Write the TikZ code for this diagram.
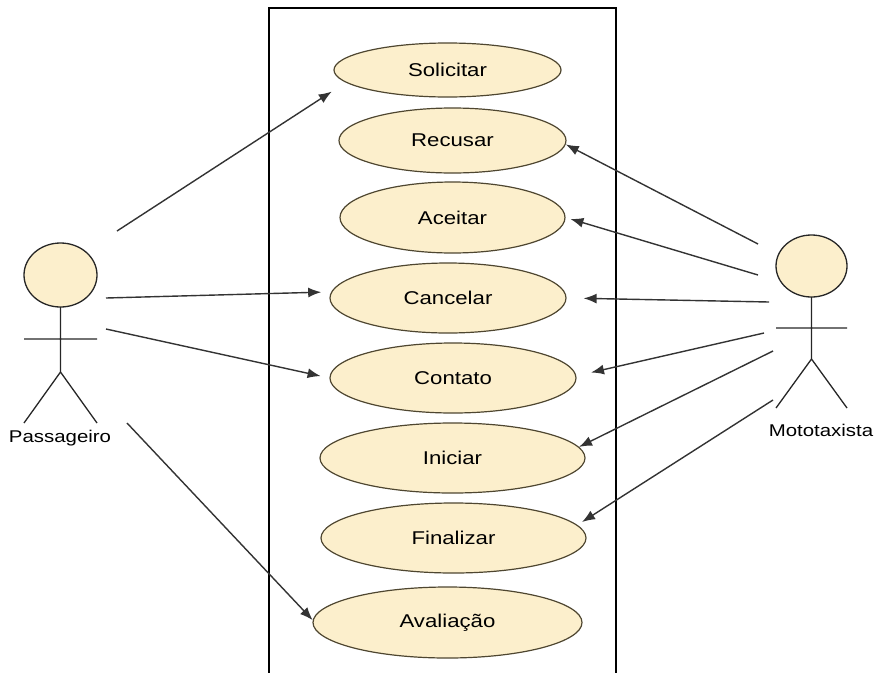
\documentclass[tikz,border=0pt]{standalone}
\usepackage{fontspec}
\setmainfont{Liberation Sans}[FakeStretch=1.2]
\usetikzlibrary{arrows.meta,shapes.geometric}
\definecolor{ucfill}{RGB}{252,239,204}
\definecolor{ucdraw}{RGB}{78,70,48}

\begin{document}
\begin{tikzpicture}[x=1pt,y=-1pt]
\tikzstyle{usecase} = [ellipse, draw=ucdraw, line width=1.2pt, fill=ucfill,
inner sep=0pt, font=\fontsize{18.5}{22}\selectfont]
\tikzstyle{actor} = [draw=black!85, line width=1.3pt]
\tikzstyle{actorname} = [font=\fontsize{17}{20}\selectfont]
\tikzstyle{assoc} = [draw=black!80, line width=1.4pt, -{Latex[length=13pt,width=10pt]}]
\useasboundingbox (0,0) rectangle (877,672);

% system boundary
\draw[line width=1.3pt] (269,690) -- (269,8) -- (616,8) -- (616,690);

% use cases
\node[usecase, minimum width=227pt, minimum height=54pt] (solicitar) at (447.5,70) {Solicitar};
\node[usecase, minimum width=227pt, minimum height=65pt] (recusar) at (452.5,140.5) {Recusar};
\node[usecase, minimum width=225pt, minimum height=71pt] (aceitar) at (452.5,217.5) {Aceitar};
\node[usecase, minimum width=236pt, minimum height=70pt] (cancelar) at (448,298) {Cancelar};
\node[usecase, minimum width=246pt, minimum height=70pt] (contato) at (453,378) {Contato};
\node[usecase, minimum width=265pt, minimum height=70pt] (iniciar) at (452.5,458) {Iniciar};
\node[usecase, minimum width=265pt, minimum height=70pt] (finalizar) at (453.5,538) {Finalizar};
\node[usecase, minimum width=269pt, minimum height=71pt] (avaliacao) at (447.5,622.5) {Avaliação};

% Passageiro
\draw[actor, fill=ucfill] (60.5,275) ellipse [x radius=36.5, y radius=32];
\draw[actor] (60.5,307) -- (60.5,372) (24,339) -- (97,339)
(24,423) -- (60.5,372) -- (97,423);
\node[actorname] (passageiro) at (60,438) {Passageiro};

% Mototaxista
\draw[actor, fill=ucfill] (811.5,266) ellipse [x radius=35.5, y radius=31];
\draw[actor] (811.5,297) -- (811.5,359) (776,328) -- (847,328)
(776,408) -- (811.5,359) -- (847,408);
\node[actorname] (mototaxista) at (821,430) {Mototaxista};

% association ends
\coordinate (p1) at (117,231);
\coordinate (p2) at (106,298);
\coordinate (p3) at (106,329);
\coordinate (p4) at (127,423);
\coordinate (m1) at (758,244);
\coordinate (m2) at (758,275);
\coordinate (m3) at (769,302);
\coordinate (m4) at (764,333);
\coordinate (m5) at (773,351);
\coordinate (m6) at (773,400);

\tikzstyle{every path}=[assoc]
\path[shorten >=16.7pt] (p1) -- (solicitar.187.5);
\path[shorten >=10pt] (p2) -- (cancelar.177.4);
\path[shorten >=9pt] (p3) -- (contato.180);
\path (p4) -- (avaliacao.179.4);
\path (m1) -- (recusar.-2.3);
\path[shorten >=5pt] (m2) -- (aceitar.-0.5);
\path[shorten >=17pt] (m3) -- (cancelar.0.7);
\path[shorten >=15pt] (m4) -- (contato.1.8);
\path (m5) -- (iniciar.5.5);
\path[shorten >=5.5pt] (m6) -- (finalizar.6.1);
\end{tikzpicture}
\end{document}
